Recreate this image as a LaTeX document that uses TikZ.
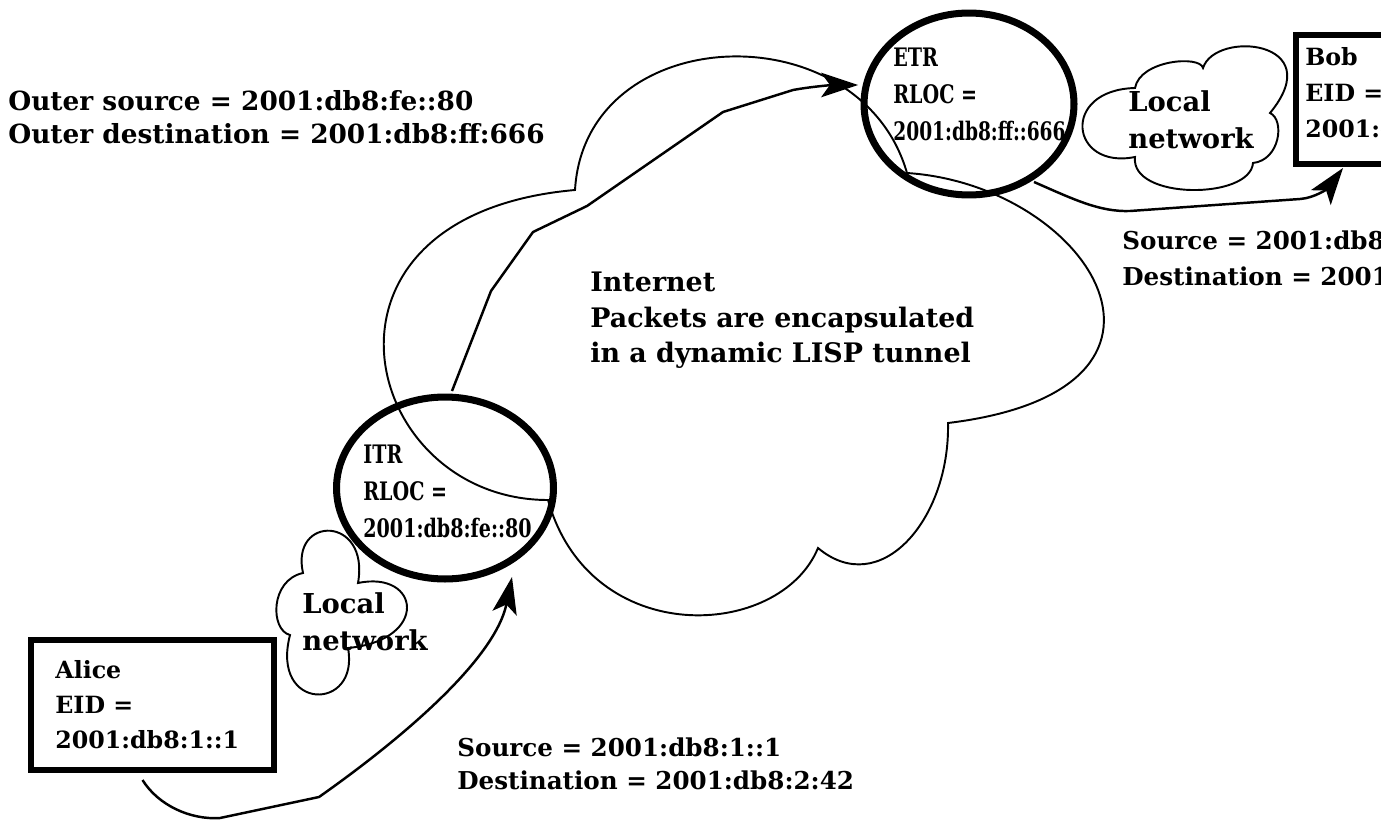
\documentclass[tikz,border=0pt]{standalone}
\usepackage{fontspec}
\usepackage{graphicx}
\setmainfont{DejaVu Serif}
\usetikzlibrary{arrows.meta,shapes.geometric}

\newcommand{\narrow}[1]{\scalebox{0.75}[1]{#1}}

\tikzset{
  host/.style={draw, rectangle, line width=3.2pt, inner sep=0pt, outer sep=0pt},
  router/.style={draw, ellipse, line width=4pt, inner sep=0pt, outer sep=0pt, minimum height=3.64cm},
  cloudline/.style={line width=1.1pt},
  packet/.style={line width=1.4pt, -{Stealth[length=21pt,width=14pt,inset=5pt]}},
  txt/.style={anchor=north west, inner sep=0pt, align=left, font=\bfseries\fontsize{14.5}{20}\selectfont},
}

\begin{document}
\begin{tikzpicture}[x=0.02cm, y=-0.02cm]
    \useasboundingbox (0,0) rectangle (1381,821);
    \clip (0,0) rectangle (1381,821);

    % Internet
    \draw[cloudline] (575,190) .. controls (585,20) and (860,10) .. (907,173)
        .. controls (1090,185) and (1220,390) .. (948,423)
        .. controls (950,520) and (880,600) .. (818,548)
        .. controls (780,640) and (590,650) .. (548,500)
        .. controls (360,500) and (290,215) .. cycle;
    \node[txt, font=\bfseries\fontsize{15.3}{20}\selectfont] (inet) at (590,272)
        {Internet\\Packets are encapsulated\\in a dynamic LISP tunnel};

    % local networks
    \draw[cloudline] (303,573) .. controls (290,515) and (370,515) .. (358,583)
        .. controls (420,570) and (430,640) .. (348,648)
        .. controls (360,712) and (270,712) .. (290,635)
        .. controls (270,630) and (270,580) .. cycle;
    \draw[cloudline] (1135,157) .. controls (1070,170) and (1060,90) .. (1135,88)
        .. controls (1140,60) and (1200,55) .. (1203,68)
        .. controls (1215,30) and (1330,40) .. (1270,113)
        .. controls (1285,120) and (1280,160) .. (1253,163)
        .. controls (1250,200) and (1130,200) .. cycle;
    \node[txt, font=\bfseries\fontsize{15.6}{21}\selectfont] (lanitr) at (302,592) {Local\\network};
    \node[txt, font=\bfseries\fontsize{15.6}{21}\selectfont] (lanetr) at (1128,90) {Local\\network};

    % routers
    \node[router, minimum width=4.34cm] (itr) at (445,488) {};
    \node[router, minimum width=4.2cm] (etr) at (969,104) {};
    \node[txt, font=\bfseries\fontsize{14.5}{21}\selectfont] (itrlbl) at (363,445)
        {\narrow{ITR}\\\narrow{RLOC =}\\\narrow{2001:db8:fe::80}};
    \node[txt, font=\bfseries\fontsize{14.5}{21}\selectfont] (etrlbl) at (893,48)
        {\narrow{ETR}\\\narrow{RLOC =}\\\scalebox{0.73}[1]{2001:db8:ff::666}};

    % hosts
    \node[host, minimum width=4.86cm, minimum height=2.6cm] (alice) at (152.5,705) {};
    \node[host, minimum width=2.68cm, minimum height=2.58cm] (bob) at (1363,99.5) {};
    \node[txt, font=\bfseries\fontsize{13.5}{20}\selectfont] (alicelbl) at (55,660) {Alice\\EID =\\2001:db8:1::1};
    \node[txt, font=\bfseries\fontsize{13.5}{20.5}\selectfont] (boblbl) at (1305,47) {Bob\\EID =\\2001:db8:2::42};

    % headers
    \node[txt, font=\bfseries\fontsize{15}{18.8}\selectfont] (outer) at (8,90)
        {Outer source = 2001:db8:fe::80\\Outer destination = 2001:db8:ff:666};
    \node[txt, font=\bfseries\fontsize{14}{18.8}\selectfont] (innerin) at (457,737)
        {Source = 2001:db8:1::1\\Destination = 2001:db8:2:42};
    \node[txt, font=\bfseries\fontsize{14}{20.5}\selectfont] (innerout) at (1122,230)
        {Source = 2001:db8:1::1\\Destination = 2001:db8:2:42};

    % packets
    \draw[packet] ([shift={(-10,10)}]alice.south) .. controls (158,805) and (190,820) .. (220,818)
        -- (319,797) .. controls (400,740) and (495,660) .. ([shift={(67,-2)}]itr.south);
    \draw[packet] ([shift={(7,-6)}]itr.north) -- (491,291) -- (533,232) -- (587,206) -- (723,112)
        -- (793,90) .. controls (815,86) and (835,85) .. ([shift={(-6,-19)}]etr.west);
    \draw[packet] ([shift={(65,-13)}]etr.south) .. controls (1075,200) and (1100,212) .. (1130,211)
        -- (1300,199) .. controls (1315,198) and (1328,188) .. ([shift={(-20,4)}]bob.south);
\end{tikzpicture}
\end{document}
